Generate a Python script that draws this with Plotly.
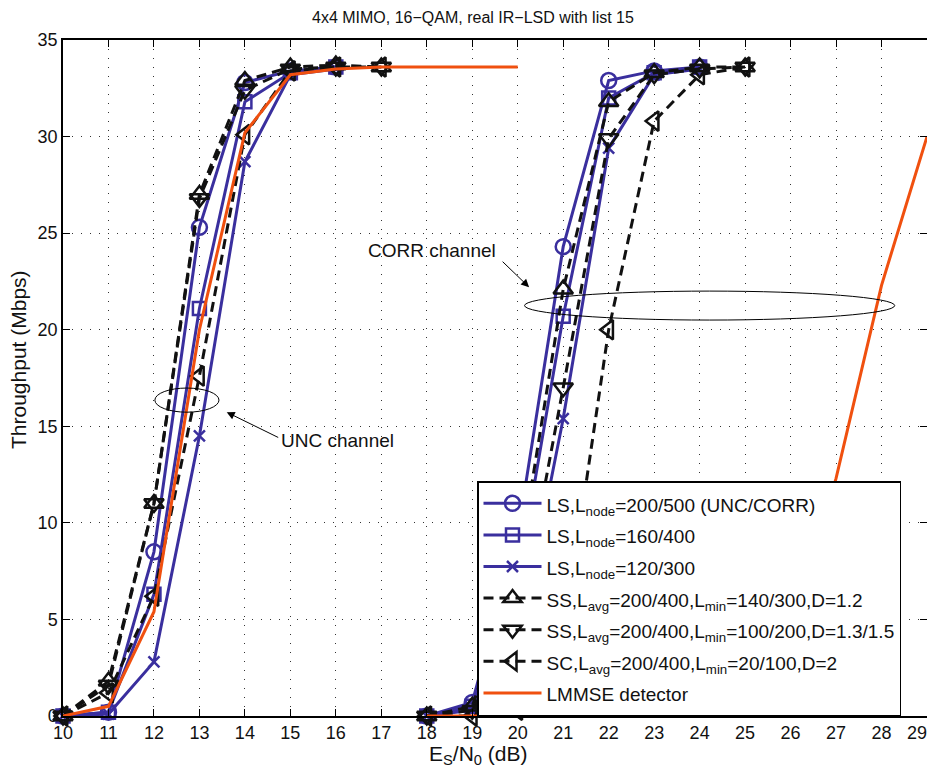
import plotly.graph_objects as go

# ---------------- data ----------------
x_unc = [10, 11, 12, 13, 14, 15, 16, 17]
x_corr = [18, 19, 20, 21, 22, 23, 24, 25]

ls200_unc = [0, 0.2, 8.5, 25.3, 32.8, 33.4, 33.6]
ls160_unc = [0, 0.2, 6.3, 21.1, 31.8, 33.3, 33.6]
ls120_unc = [0, 0.1, 2.8, 14.5, 28.7, 33.2, 33.5]
ss_up_unc = [0, 1.8, 11.0, 27.0, 32.9, 33.6, 33.7, 33.6]
ss_dn_unc = [0, 1.6, 11.0, 26.8, 32.4, 33.5, 33.6, 33.6]
sc_unc = [0, 1.2, 6.2, 17.6, 30.1, 33.4, 33.6, 33.6]

ls200_corr = [0, 0.7, 9.4, 24.3, 32.9, 33.4, 33.6]
ls160_corr = [0, 0.5, 7.0, 20.7, 32.0, 33.3, 33.6]
ls120_corr = [0, 0.3, 3.5, 15.4, 29.4, 33.2, 33.5]
ss_up_corr = [0, 0.5, 7.5, 22.1, 31.8, 33.3, 33.6, 33.6]
ss_dn_corr = [0, 0.3, 4.5, 17.0, 29.9, 33.2, 33.5, 33.6]
sc_corr = [0, 0, 0.3, 4.0, 20.0, 30.8, 33.2, 33.6]

x_lmmse_unc = [10, 11, 12, 13, 14, 15, 16, 17, 18, 19, 20]
lmmse_unc = [0, 0.5, 5.4, 20.0, 30.2, 33.2, 33.5, 33.6, 33.6, 33.6, 33.6]
x_lmmse_corr = [18, 19, 20, 21, 22, 23, 24, 25, 26, 27, 28, 29]
lmmse_corr = [0, 0, 0, 0, 0, 0, 0, 1.0, 4.5, 12.3, 22.3, 30.0]

x_ticks = list(range(10, 30))
x_ticktext = [str(v) for v in x_ticks[:-1]] + ["29\u00a0\u00a0\u00a0\u00a0"]
y_ticks = [0, 5, 10, 15, 20, 25, 30, 35]

names = [
    "LS,L<sub>node</sub>=200/500 (UNC/CORR)",
    "LS,L<sub>node</sub>=160/400",
    "LS,L<sub>node</sub>=120/300",
    "SS,L<sub>avg</sub>=200/400,L<sub>min</sub>=140/300,D=1.2",
    "SS,L<sub>avg</sub>=200/400,L<sub>min</sub>=100/200,D=1.3/1.5",
    "SC,L<sub>avg</sub>=200/400,L<sub>min</sub>=20/100,D=2",
    "LMMSE detector",
]

BLUE = "#3a2f9e"
BLACK = "#111111"
ORANGE = "#f0500f"
DASH = "10px,6px"
FONT = "Liberation Sans, Arial, sans-serif"

# page body has an 8px default margin: the figure starts at (8, 8) in the window
OFF = 8
W, H = 935 - OFF, 772 - OFF
# plot area in window pixels
PL, PR, PT, PB = 63, 927, 40, 716


def px(xp):
    return (xp - PL) / (PR - PL)


def py(yp):
    return (PB - yp) / (PB - PT)


def join(xa, ya, xb, yb):
    xs = list(xa[:len(ya)]) + [None] + list(xb[:len(yb)])
    ys = list(ya) + [None] + list(yb)
    return xs, ys


fig = go.Figure()

series = [
    (ls200_unc, ls200_corr, BLUE, "solid", "circle-open", 15),
    (ls160_unc, ls160_corr, BLUE, "solid", "square-open", 13),
    (ls120_unc, ls120_corr, BLUE, "solid", "x-thin-open", 11),
    (ss_up_unc, ss_up_corr, BLACK, DASH, "triangle-up-open", 17),
    (ss_dn_unc, ss_dn_corr, BLACK, DASH, "triangle-down-open", 17),
    (sc_unc, sc_corr, BLACK, DASH, "triangle-left-open", 17),
]

for i, (yu, yc, col, dash, sym, sz) in enumerate(series):
    xs, ys = join(x_unc, yu, x_corr, yc)
    fig.add_trace(go.Scatter(
        x=xs, y=ys, name='<span style="font-size:19px">' + names[i] + '</span>',
        mode="lines+markers",
        line=dict(color=col, width=3, dash=dash),
        marker=dict(symbol=sym, size=sz, color=col, line=dict(color=col, width=2.5)),
        cliponaxis=False, connectgaps=False,
    ))

xs, ys = join(x_lmmse_unc, lmmse_unc, x_lmmse_corr, lmmse_corr)
fig.add_trace(go.Scatter(
    x=xs, y=ys, name='<span style="font-size:19px">' + names[6] + '</span>', mode="lines",
    line=dict(color=ORANGE, width=3), connectgaps=False,
))

# ellipses
fig.add_shape(type="circle", xref="x", yref="y", x0=12.02, x1=13.43, y0=15.73, y1=16.98,
              line=dict(color="black", width=1))
fig.add_shape(type="circle", xref="x", yref="y", x0=20.15, x1=28.29, y0=20.5, y1=22.0,
              line=dict(color="black", width=1))

# annotations
fig.add_annotation(x=20.25, y=22.2, ax=-28, ay=-27, xref="x", yref="y", text="",
                   showarrow=True, arrowhead=2, arrowsize=1.6, arrowwidth=1, arrowcolor="black")
fig.add_annotation(x=18.11, y=24.12, xref="x", yref="y", text="CORR channel", showarrow=False,
                   font=dict(size=19, color="#111"))
fig.add_annotation(x=13.6, y=15.73, ax=53, ay=26, xref="x", yref="y", text="",
                   showarrow=True, arrowhead=2, arrowsize=1.6, arrowwidth=1, arrowcolor="black")
fig.add_annotation(x=16.03, y=14.29, xref="x", yref="y", text="UNC channel", showarrow=False,
                   font=dict(size=19, color="#111"))

# titles
fig.add_annotation(x=px(473), y=py(18), xref="paper", yref="paper",
                   text="4x4 MIMO, 16\u2212QAM, real IR\u2212LSD with list 15",
                   showarrow=False, font=dict(size=16, color="#111"), yanchor="middle")
fig.add_annotation(x=px(478), y=py(755), xref="paper", yref="paper", text="E<sub>S</sub>/N<sub>0</sub> (dB)",
                   showarrow=False, font=dict(size=21, color="#111"), yanchor="middle")
fig.add_annotation(x=px(18), y=py(360), xref="paper", yref="paper", text="Throughput (Mbps)",
                   showarrow=False, font=dict(size=21, color="#111"), textangle=-90,
                   xanchor="center", yanchor="middle")

axis_common = dict(
    showline=True, linecolor="black", linewidth=1.5, mirror="allticks",
    ticks="inside", ticklen=7, tickwidth=1, tickcolor="black",
    showgrid=True, gridcolor="#333", gridwidth=1, griddash="1px,8px",
    zeroline=False, automargin=False, ticklabeloverflow="allow",
    tickfont=dict(family=FONT, size=18, color="#111"),
)

fig.update_xaxes(range=[10, 29], tickvals=x_ticks, ticktext=x_ticktext, **axis_common)
fig.update_yaxes(range=[0, 35], tickvals=y_ticks, ticktext=[str(v) for v in y_ticks], **axis_common)

fig.update_layout(
    width=W, height=H,
    margin=dict(l=PL - OFF, r=935 - PR, t=PT - OFF, b=772 - PB),
    paper_bgcolor="white", plot_bgcolor="white",
    font=dict(family=FONT, color="#111"),
    legend=dict(
        x=px(477), y=py(481), xanchor="left", yanchor="top",
        bgcolor="white", bordercolor="black", borderwidth=1.5,
        font=dict(size=22, color="#111"), itemwidth=58, tracegroupgap=0,
    ),
    showlegend=True,
)

fig.write_html("out.html")
